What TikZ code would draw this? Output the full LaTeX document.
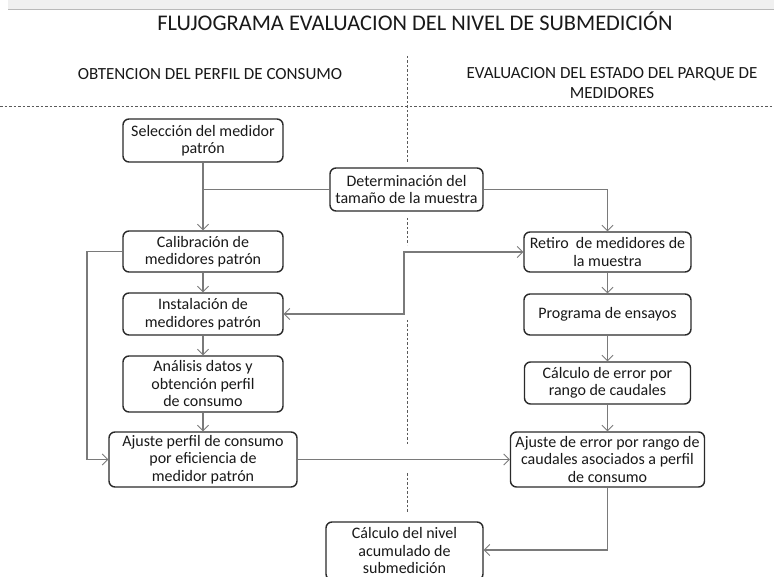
\documentclass[tikz,border=0pt]{standalone}
\usepackage{fontspec}
\setmainfont{Carlito}
\usetikzlibrary{arrows.meta}
\definecolor{boxline}{HTML}{2A2A2A}
\definecolor{linkline}{HTML}{7A7A7A}
\definecolor{guideline}{HTML}{5A5A5A}
\begin{document}
\begin{tikzpicture}[x=1pt,y=-1pt,
  stepbox/.style={draw=boxline, line width=1.4pt, rounded corners=6pt,
    align=center, inner sep=2pt, font=\fontsize{16}{17.5}\selectfont,
    text=black!90},
  link/.style={draw=linkline, line width=1.1pt},
  barb/.tip={Straight Barb[length=5.5pt,width=11pt,line width=0.9pt]},
  arr/.style={link, -barb},
  guide/.style={draw=guideline, line width=0.6pt, dash pattern=on 2.5pt off 2pt},
  header/.style={font=\fontsize{17}{20}\selectfont, text=black!90, align=center}]
\useasboundingbox (0,0) rectangle (774,577);
\fill[white] (0,0) rectangle (774,577);

% window strip along the top edge
\fill[gray!12] (8,0) rectangle (774,9.5);
\draw[gray!55, line width=1pt] (8,10) -- (774,10);

% title and column headers
\node[font=\fontsize{22.4}{26}\selectfont, text=black!90] (title) at (415,21) {FLUJOGRAMA EVALUACION DEL NIVEL DE SUBMEDICIÓN};
\node[header] (hleft) at (210,74) {OBTENCION DEL PERFIL DE CONSUMO};
\node[header] (hright) at (612,83) {EVALUACION DEL ESTADO DEL PARQUE DE\\MEDIDORES};

% column separators
\draw[guide] (0,106) -- (774,106);
\draw[guide] (407,56) -- (407,162);
\draw[guide] (407,218) -- (407,245);
\draw[guide] (407,320) -- (407,445);
\draw[guide] (407,473) -- (407,513);

% left column
\node[stepbox, minimum width=160pt, minimum height=43pt] (sel) at (203,140.5) {Selección del medidor\\patrón};
\node[stepbox, minimum width=160pt, minimum height=41pt] (cal) at (203,251.5) {Calibración de\\medidores patrón};
\node[stepbox, minimum width=160pt, minimum height=42pt] (ins) at (203,314) {Instalación de\\medidores patrón};
\node[stepbox, minimum width=160pt, minimum height=56pt] (ana) at (203,384) {Análisis datos y\\obtención perfil\\de consumo};
\node[stepbox, minimum width=188pt, minimum height=55pt] (ajp) at (203,459.5) {Ajuste perfil de consumo\\por eficiencia de\\medidor patrón};

% centre
\node[stepbox, minimum width=153pt, minimum height=43pt] (det) at (406.5,189.5) {Determinación del\\tamaño de la muestra};
\node[stepbox, minimum width=157pt, minimum height=58pt] (niv) at (404.5,551) {Cálculo del nivel\\acumulado de\\submedición};

% right column
\node[stepbox, minimum width=167pt, minimum height=40pt] (ret) at (607.5,252) {Retiro\ \ de medidores de\\la muestra};
\node[stepbox, minimum width=167pt, minimum height=41pt] (pro) at (607.5,314.5) {Programa de ensayos};
\node[stepbox, minimum width=166pt, minimum height=42pt] (err) at (607.5,383) {Cálculo de error por\\rango de caudales};
\node[stepbox, minimum width=194pt, minimum height=55pt] (aje) at (607.5,459.5) {Ajuste de error por rango de\\caudales asociados a perfil\\de consumo};

\coordinate (jog) at (404,0);
\coordinate (loop) at (87,0);
\coordinate (drop) at (0,550);

% left column flow
\draw[arr] (sel) -- (cal);
\draw[link] (det.west) -- (det.west -| sel.south);
\draw[arr] (cal) -- (ins);
\draw[arr] (ins) -- (ana);
\draw[arr] (ana) -- (ajp);
\draw[arr] (cal.west) -- (cal.west -| loop) |- (ajp.west);

% right column flow
\draw[arr] (det.east) -| (ret.north);
\draw[arr] (ret) -- (pro);
\draw[arr] (pro) -- (err);
\draw[arr] (err) -- (aje);

% cross links
\draw[link, barb-barb] (ins.east) -- (ins.east -| jog) |- (ret.west);
\draw[arr] (ajp.east) -- (aje.west);
\draw[arr] (aje.south) -- (aje.south |- drop) -- (niv.east |- drop);
\end{tikzpicture}
\end{document}
